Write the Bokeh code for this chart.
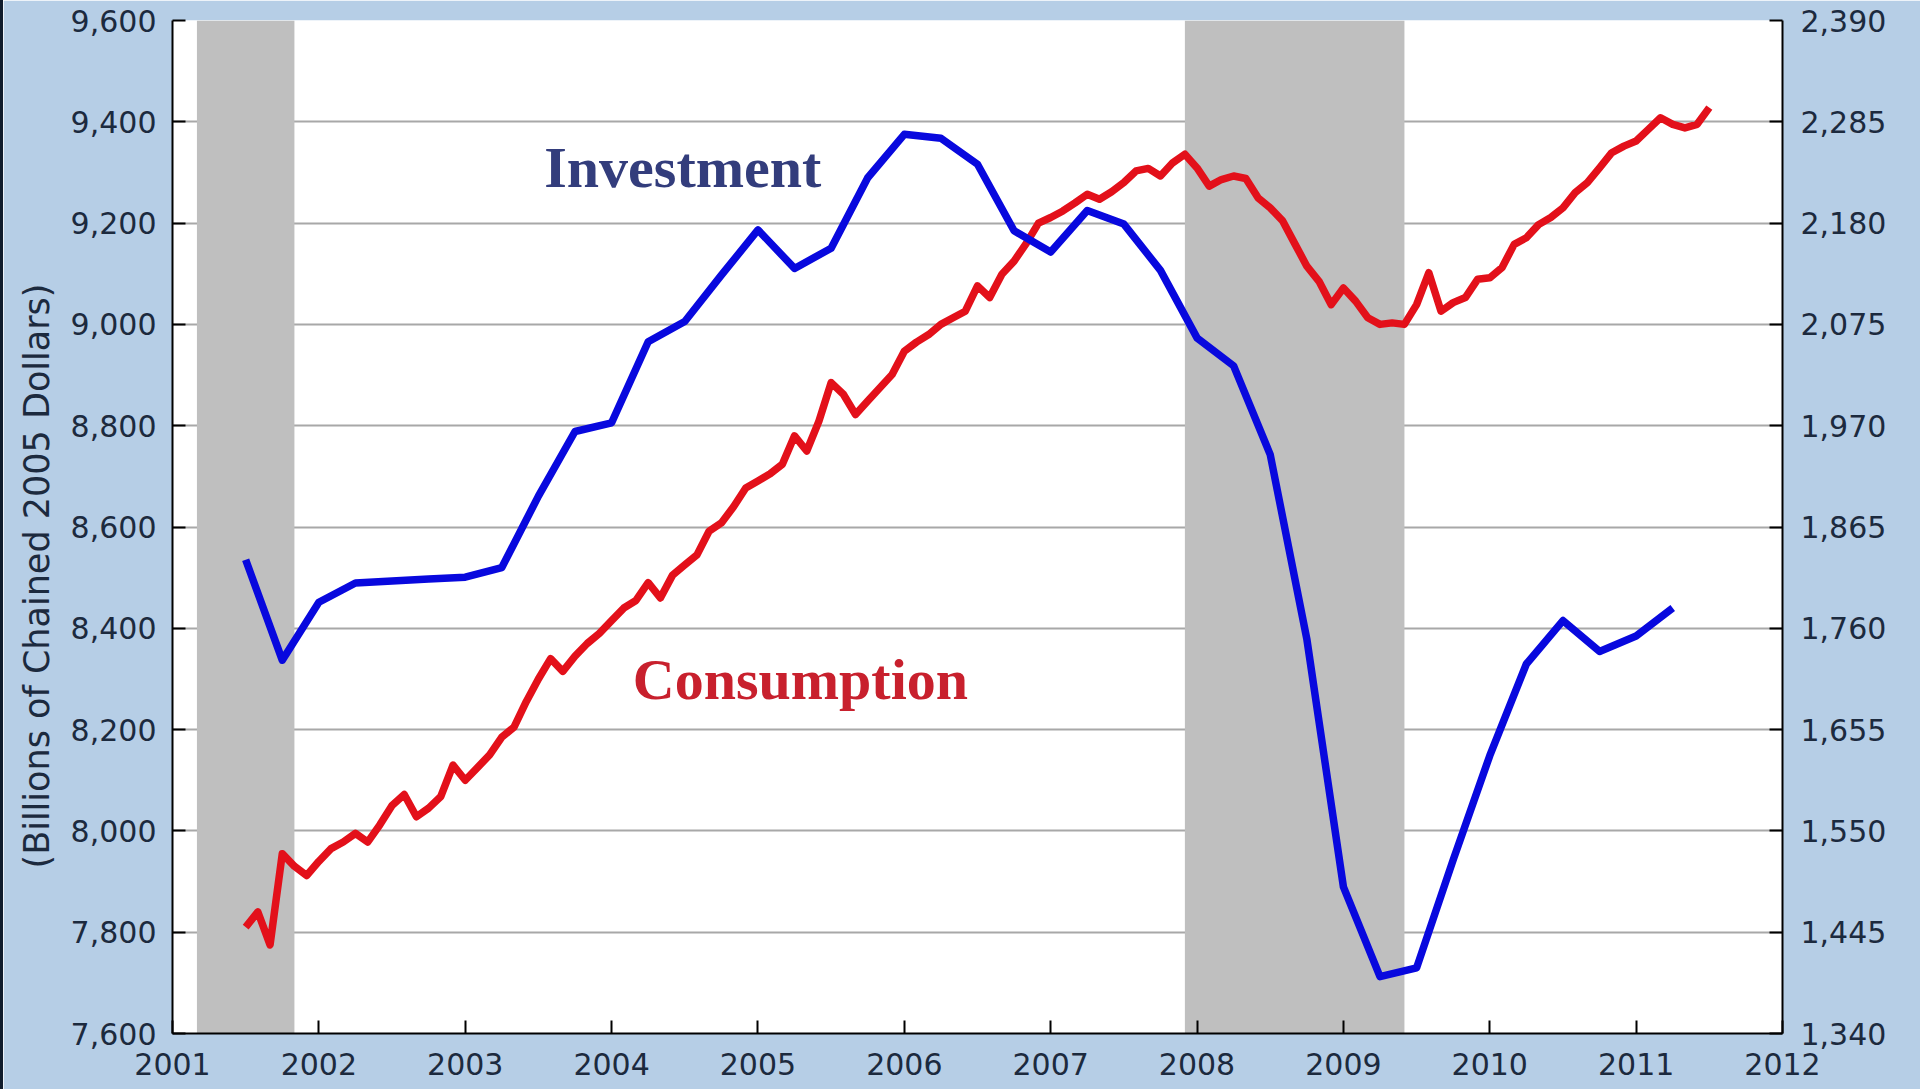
import pandas as pd
from bokeh.plotting import figure
from bokeh.models import Range1d, LinearAxis, BoxAnnotation, Label, Title, FixedTicker, NumeralTickFormatter
from bokeh.embed import file_html
from bokeh.resources import INLINE

# ---------------- data ----------------
# Real personal consumption expenditures, monthly, Jul 2001 - Jul 2011 (left axis)
cons_start = "2001-07"
cons_end = "2011-07"
consumption = [
    7810, 7840, 7775, 7955, 7930, 7912,
    7940, 7965, 7978, 7995, 7978, 8012, 8050, 8072, 8028, 8045, 8068, 8130,
    8100, 8125, 8150, 8185, 8205, 8255, 8300, 8340, 8315, 8345, 8370, 8390,
    8415, 8440, 8455, 8490, 8460, 8505, 8525, 8545, 8592, 8608, 8640, 8677,
    8691, 8705, 8724, 8780, 8750, 8809, 8885, 8862, 8822, 8849, 8875, 8901,
    8947, 8965, 8980, 9000, 9013, 9026, 9076, 9053, 9099, 9125, 9160, 9200,
    9211, 9224, 9240, 9257, 9247, 9262, 9280, 9303, 9308, 9293, 9319, 9336,
    9309, 9273, 9286, 9293, 9288, 9250, 9230, 9205, 9160, 9115, 9085, 9039,
    9072, 9046, 9013, 9000, 9003, 9000, 9039, 9102, 9026, 9043, 9053, 9089,
    9092, 9112, 9158, 9171, 9197, 9211, 9230, 9260, 9280, 9309, 9339, 9352,
    9362, 9385, 9408, 9395, 9388, 9395, 9428,
]

# Real gross private domestic investment, quarterly, 2001Q3 - 2011Q2 (right axis)
inv_start = "2001-07"
inv_end = "2011-04"
investment = [
    1831, 1727,
    1787, 1807, 1809, 1811,
    1813, 1823, 1897, 1964,
    1973, 2057, 2078, 2126,
    2173, 2133, 2154, 2227,
    2272, 2268, 2241, 2172,
    2150, 2193, 2179, 2131,
    2061, 2032, 1940, 1749,
    1492, 1399, 1408, 1520,
    1628, 1723, 1768, 1736,
    1752, 1781,
]

# NBER recessions (decimal years)
rec_start = [2001.167, 2007.917]
rec_end = [2001.833, 2009.417]

x_ticks = [2001, 2002, 2003, 2004, 2005, 2006, 2007, 2008, 2009, 2010, 2011, 2012]
left_ticks = [7600, 7800, 8000, 8200, 8400, 8600, 8800, 9000, 9200, 9400, 9600]
right_ticks = [1340, 1445, 1550, 1655, 1760, 1865, 1970, 2075, 2180, 2285, 2390]


def decimal_years(start, end, freq):
    d = pd.date_range(start, end, freq=freq)
    return list(d.year + (d.month - 1) / 12.0)


cons_x = decimal_years(cons_start, cons_end, "MS")
inv_x = decimal_years(inv_start, inv_end, "QS")

# ---------------- figure ----------------
BG = "#b6cee6"
TXT = "#1c2a3e"

p = figure(width=1917, height=1089, output_backend="svg", toolbar_location=None,
           x_range=Range1d(x_ticks[0], x_ticks[-1]),
           y_range=Range1d(left_ticks[0], left_ticks[-1]),
           min_border_left=169, min_border_right=138, min_border_top=20, min_border_bottom=56)
p.extra_y_ranges = {"inv": Range1d(right_ticks[0], right_ticks[-1])}

p.border_fill_color = BG
p.background_fill_color = "white"
p.outline_line_color = None

p.xgrid.visible = False
p.ygrid.grid_line_color = "#a8a8a8"
p.ygrid.grid_line_width = 2

# recession shading (above grid, below lines)
for s, e in zip(rec_start, rec_end):
    p.add_layout(BoxAnnotation(left=s, right=e, fill_color="#bfbfbf", fill_alpha=1.0,
                               line_color=None, level="underlay"))

p.line(cons_x, consumption, line_color="#e3101a", line_width=7.5, line_join="round")
p.line(inv_x, investment, y_range_name="inv", line_color="#0808de", line_width=7.5, line_join="round")

# axes styling
def style_axis(ax, standoff):
    ax.axis_line_color = "black"
    ax.axis_line_width = 2
    ax.major_tick_line_color = "black"
    ax.major_tick_line_width = 2
    ax.major_tick_in = 13
    ax.major_tick_out = 0
    ax.minor_tick_line_color = None
    ax.major_label_text_font = "DejaVu Sans"
    ax.major_label_text_font_size = "30px"
    ax.major_label_text_color = TXT
    ax.major_label_standoff = standoff

p.xaxis.ticker = FixedTicker(ticks=x_ticks)
style_axis(p.xaxis[0], 19)

p.yaxis.ticker = FixedTicker(ticks=left_ticks)
p.yaxis.formatter = NumeralTickFormatter(format="0,0")
style_axis(p.yaxis[0], 16)

right = LinearAxis(y_range_name="inv", ticker=FixedTicker(ticks=right_ticks),
                   formatter=NumeralTickFormatter(format="0,0"))
style_axis(right, 18)
p.add_layout(right, "right")

p.add_layout(Title(text="(Billions of Chained 2005 Dollars)", align="left", offset=165,
                   text_font="DejaVu Sans", text_font_size="35px", text_font_style="normal",
                   text_color=TXT, standoff=22), "left")

p.add_layout(Label(x=2003.54, y=9310, text="Investment", text_font="Liberation Serif",
                   text_font_style="bold", text_font_size="58px", text_color="#333d7c",
                   text_align="left", text_baseline="alphabetic"))
p.add_layout(Label(x=2004.145, y=8299, text="Consumption", text_font="Liberation Serif",
                   text_font_style="bold", text_font_size="58px", text_color="#c8202d",
                   text_align="left", text_baseline="alphabetic"))

html = file_html(p, INLINE)
html = html.replace(
    "<head>",
    "<head><style>html,body{background:#ffffff;} body{border-left:3px solid #101c2c;}</style>",
    1)
open("out.html", "w").write(html)
